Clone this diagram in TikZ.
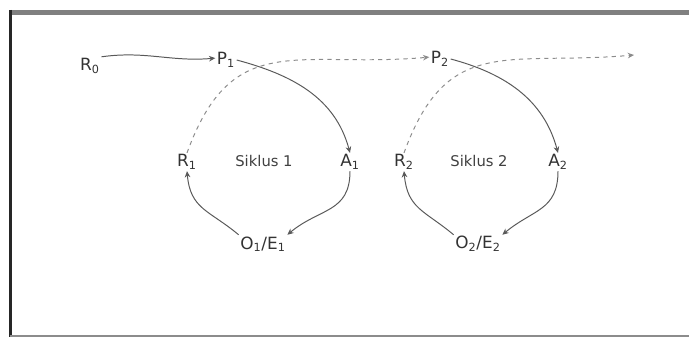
\documentclass[tikz,border=0pt]{standalone}
\usepackage{fontspec}
\setmainfont{DejaVu Sans}
\usepackage{xcolor}
\usepackage{tikz}
\usetikzlibrary{positioning,arrows.meta,calc}

\begin{document}
\begin{tikzpicture}[
  x=0.025cm, y=0.025cm,
  stateN/.style={inner sep=1pt, text=black!80, font=\fontsize{12}{14}\selectfont},
  cycleN/.style={inner sep=1pt, text=black!75, font=\fontsize{10.5}{12}\selectfont},
  flow/.style={line width=0.7pt, black!65, -{Stealth[length=4.5pt,width=4pt]}},
  nextflow/.style={line width=0.7pt, black!45, dashed, dash pattern=on 3pt off 3pt,
                   -{Stealth[length=4.5pt,width=4pt]}}
]
\useasboundingbox (0,0) rectangle (689,337);
% Frame
\draw[line width=4.2pt, black!50] (9,324.5) -- (689,324.5);
\draw[line width=2pt, black!85] (10.5,327) -- (10.5,0);
\draw[line width=1.4pt, black!45] (10,1) -- (689,1);
% Start
\node[stateN] (r0) at (90,271) {R\textsubscript{0}};
% Cycle 1
\node[stateN] (p1) at (226,277) {P\textsubscript{1}};
\node[stateN] (a1) at (350,175) {A\textsubscript{1}};
\node[stateN] (oe1) at (263,93) {O\textsubscript{1}/E\textsubscript{1}};
\node[stateN] (r1) at (187,175) {R\textsubscript{1}};
\node[cycleN] (s1) at (264,176) {Siklus 1};
% Cycle 2
\node[stateN] (p2) at (440,278) {P\textsubscript{2}};
\node[stateN] (a2) at (558,175) {A\textsubscript{2}};
\node[stateN] (oe2) at (478,93) {O\textsubscript{2}/E\textsubscript{2}};
\node[stateN] (r2) at (404,175) {R\textsubscript{2}};
\node[cycleN] (s2) at (479,176) {Siklus 2};
\coordinate (next) at (634,282);
% Cycle edges
\draw[flow] (r0.north east) to[out=8,in=185] (p1.170);
\draw[flow] (p1.east) to[out=-15,in=105] (a1.north);
\draw[flow] (a1.south) to[out=-90,in=40,looseness=1.2] (oe1.north east);
\draw[flow] (oe1.north west) to[out=140,in=-85,looseness=1.2] (r1.south);
\draw[flow] (p2.east) to[out=-15,in=105] (a2.north);
\draw[flow] (a2.south) to[out=-90,in=40,looseness=1.2] (oe2.north east);
\draw[flow] (oe2.north west) to[out=140,in=-85,looseness=1.2] (r2.south);
% Next-cycle edges
\draw[nextflow] (r1.north) to[out=70,in=185,looseness=1.3] (p2.170);
\draw[nextflow] (r2.north) to[out=70,in=185,looseness=1.3] (next);
\end{tikzpicture}
\end{document}
